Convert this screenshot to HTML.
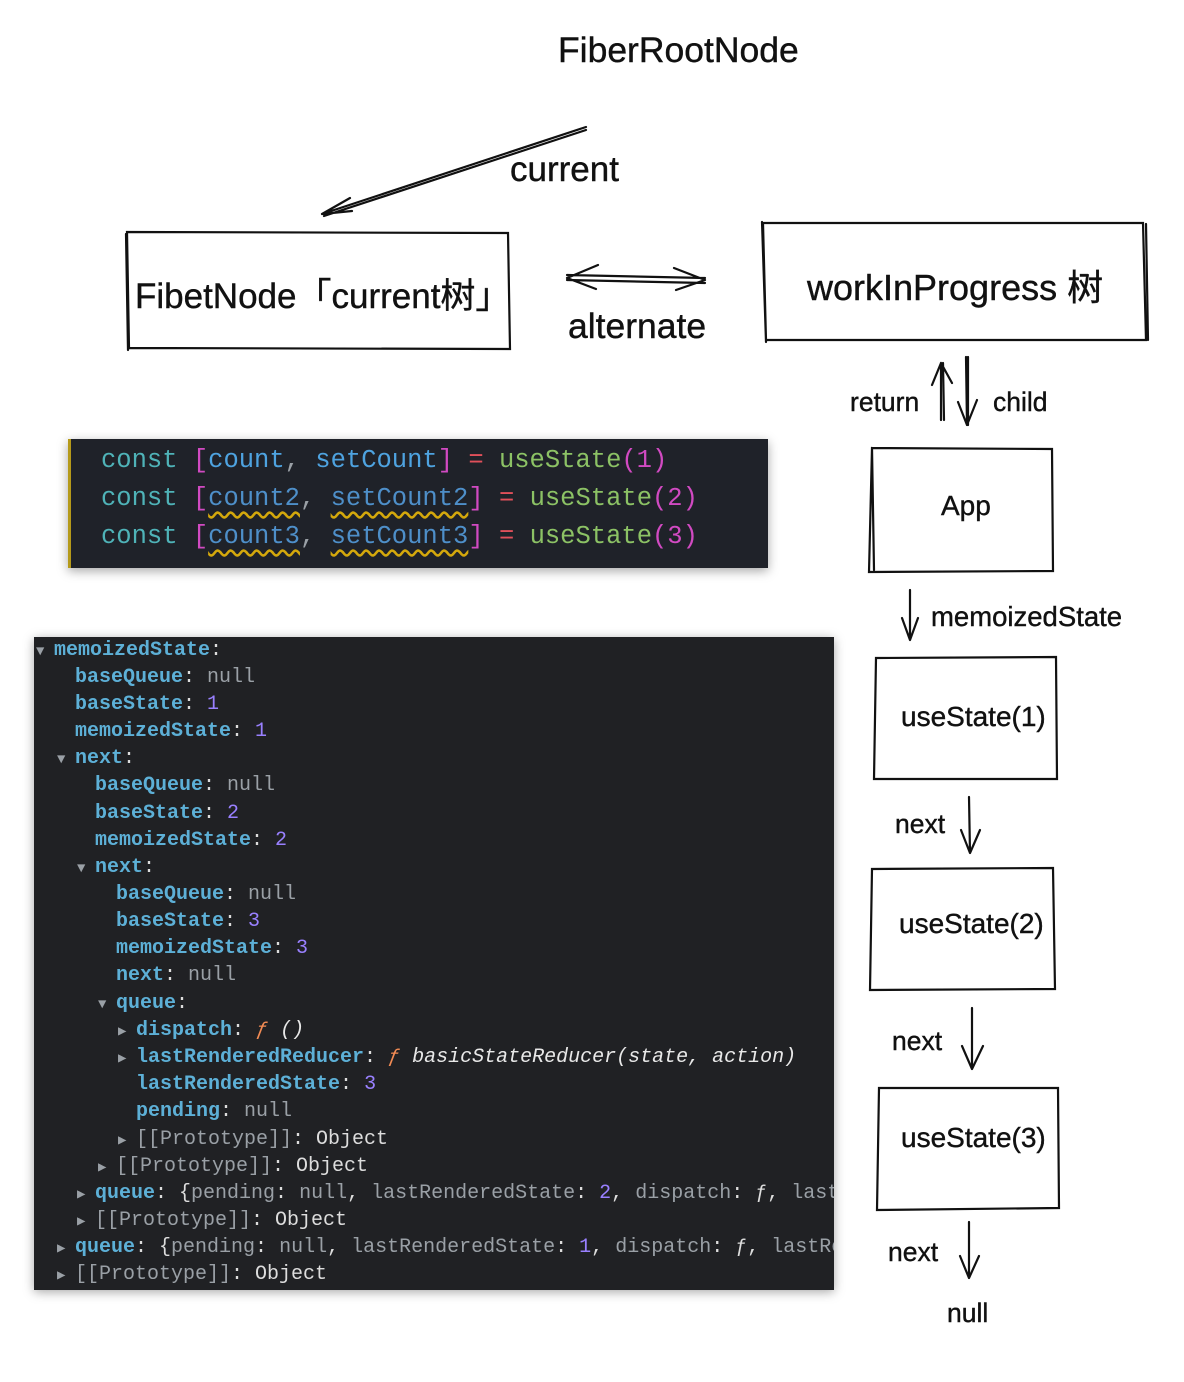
<!DOCTYPE html>
<html><head><meta charset="utf-8"><style>
body{margin:0;width:1184px;height:1382px;background:#fff;position:relative;overflow:hidden;font-family:"Liberation Sans","Noto Sans CJK SC",sans-serif}
.t{position:absolute;color:#111;white-space:nowrap;-webkit-text-stroke:0.4px #111}
#code{position:absolute;left:68px;top:439px;width:700px;height:129px;background:#1f2229;border-left:3px solid #b59a1a;box-sizing:border-box;box-shadow:0 3px 10px rgba(0,0,0,.35);overflow:hidden;font-family:"Liberation Mono",monospace;font-size:25.5px}
#code div{position:absolute;left:30px;white-space:pre}
.k{color:#4fb3b8}.b{color:#d14ac2}.v{color:#4ea3e0}.o{color:#e0505a}.f{color:#8cc265}.u{text-decoration:underline wavy #d4a80c;text-underline-offset:6px;color:#4e8fc9}
#dev{position:absolute;left:34px;top:637px;width:800px;height:653px;background:#202124;box-shadow:0 2px 10px rgba(0,0,0,.35);overflow:hidden;font-family:"Liberation Mono",monospace;font-size:20px}
#dev div{position:absolute;white-space:pre;color:#ddd;line-height:27px}
.n{color:#5db0d7;font-weight:bold}.g{color:#9aa0a6}.p{color:#9980ff}.fn{color:#f28b54;font-style:italic}.i{font-style:italic;color:#e8e8e8}
.tr{display:inline-block;width:18px;color:#9aa0a6;font-size:14px}
</style></head><body>
<svg width="1184" height="1382" style="position:absolute;left:0;top:0" fill="none" stroke="#111" stroke-width="2.2" stroke-linecap="round">
<path d="M586 127 L322 214 M586 130 L324 216 M322 214 L350 198 M322 214 L352 211"/>
<path d="M127 232 L508 233 L510 349 L129 348 Z M126 234 L128 350"/>
<path d="M763 223 L1143 223 L1146 340 L766 340 Z M762 222 L766 342 M1146 224 L1148 340"/>
<path d="M567 275 L705 278 M567 280 L705 283 M567 278 L598 265 M567 278 L596 289 M705 280 L674 268 M705 280 L676 290"/>
<path d="M941 420 L941 363 M944 420 L943 363 M941 363 L932 385 M941 363 L952 383"/>
<path d="M966 357 L967 425 M968 357 L968 425 M967 425 L958 402 M967 425 L977 400"/>
<path d="M872 448 L1052 449 L1053 571 L869 572 Z M872 448 L874 570"/>
<path d="M910 590 L910 640 M910 640 L902 618 M910 640 L918 618"/>
<path d="M876 658 L1056 657 L1057 779 L874 779 Z"/>
<path d="M969 797 L970 853 M970 853 L961 830 M970 853 L980 830"/>
<path d="M872 869 L1053 868 L1055 989 L870 990 Z"/>
<path d="M972 1008 L972 1069 M972 1069 L962 1046 M972 1069 L983 1046"/>
<path d="M879 1088 L1058 1088 L1059 1208 L877 1210 Z"/>
<path d="M969 1222 L969 1278 M969 1278 L960 1256 M969 1278 L979 1256"/>
</svg>
<div class="t" style="left:558px;top:30px;font-size:35.5px">FiberRootNode</div>
<div class="t" style="left:510px;top:150px;font-size:35px">current</div>
<div class="t" style="left:135px;top:268px;font-size:35px">FibetNode「current树」</div>
<div class="t" style="left:568px;top:306px;font-size:35.5px">alternate</div>
<div class="t" style="left:807px;top:259px;font-size:36px">workInProgress 树</div>
<div class="t" style="left:850px;top:387px;font-size:26.5px">return</div>
<div class="t" style="left:993px;top:387px;font-size:26.5px">child</div>
<div class="t" style="left:941px;top:490px;font-size:28px">App</div>
<div class="t" style="left:931px;top:601px;font-size:27.5px">memoizedState</div>
<div class="t" style="left:901px;top:701px;font-size:28px">useState(1)</div>
<div class="t" style="left:895px;top:809px;font-size:26.5px">next</div>
<div class="t" style="left:899px;top:908px;font-size:28px">useState(2)</div>
<div class="t" style="left:892px;top:1026px;font-size:26.5px">next</div>
<div class="t" style="left:901px;top:1122px;font-size:28px">useState(3)</div>
<div class="t" style="left:888px;top:1237px;font-size:26.5px">next</div>
<div class="t" style="left:947px;top:1298px;font-size:26.5px">null</div>

<div id="code">
<div style="top:7px"><span class="k">const</span> <span class="b">[</span><span class="v">count</span><span class="g">,</span> <span class="v">setCount</span><span class="b">]</span> <span class="o">=</span> <span class="f">useState</span><span class="b">(1)</span></div>
<div style="top:45px"><span class="k">const</span> <span class="b">[</span><span class="u">count2</span><span class="g">,</span> <span class="u">setCount2</span><span class="b">]</span> <span class="o">=</span> <span class="f">useState</span><span class="b">(2)</span></div>
<div style="top:83px"><span class="k">const</span> <span class="b">[</span><span class="u">count3</span><span class="g">,</span> <span class="u">setCount3</span><span class="b">]</span> <span class="o">=</span> <span class="f">useState</span><span class="b">(3)</span></div>
</div>

<div id="dev">
<div style="top:0px;left:2px"><span class="tr">▼</span><span class="n">memoizedState</span>:</div>
<div style="top:27px;left:41px"><span class="n">baseQueue</span>: <span class="g">null</span></div>
<div style="top:54px;left:41px"><span class="n">baseState</span>: <span class="p">1</span></div>
<div style="top:81px;left:41px"><span class="n">memoizedState</span>: <span class="p">1</span></div>
<div style="top:108px;left:23px"><span class="tr">▼</span><span class="n">next</span>:</div>
<div style="top:135px;left:61px"><span class="n">baseQueue</span>: <span class="g">null</span></div>
<div style="top:163px;left:61px"><span class="n">baseState</span>: <span class="p">2</span></div>
<div style="top:190px;left:61px"><span class="n">memoizedState</span>: <span class="p">2</span></div>
<div style="top:217px;left:43px"><span class="tr">▼</span><span class="n">next</span>:</div>
<div style="top:244px;left:82px"><span class="n">baseQueue</span>: <span class="g">null</span></div>
<div style="top:271px;left:82px"><span class="n">baseState</span>: <span class="p">3</span></div>
<div style="top:298px;left:82px"><span class="n">memoizedState</span>: <span class="p">3</span></div>
<div style="top:325px;left:82px"><span class="n">next</span>: <span class="g">null</span></div>
<div style="top:353px;left:64px"><span class="tr">▼</span><span class="n">queue</span>:</div>
<div style="top:380px;left:84px"><span class="tr">▶</span><span class="n">dispatch</span>: <span class="fn">ƒ</span> <span class="i">()</span></div>
<div style="top:407px;left:84px"><span class="tr">▶</span><span class="n">lastRenderedReducer</span>: <span class="fn">ƒ</span> <span class="i">basicStateReducer(state, action)</span></div>
<div style="top:434px;left:102px"><span class="n">lastRenderedState</span>: <span class="p">3</span></div>
<div style="top:461px;left:102px"><span class="n">pending</span>: <span class="g">null</span></div>
<div style="top:489px;left:84px"><span class="tr">▶</span><span class="g">[[Prototype]]</span>: Object</div>
<div style="top:516px;left:64px"><span class="tr">▶</span><span class="g">[[Prototype]]</span>: Object</div>
<div style="top:543px;left:43px"><span class="tr">▶</span><span class="n">queue</span>: {<span class="g">pending</span>: <span class="g">null</span>, <span class="g">lastRenderedState</span>: <span class="p">2</span>, <span class="g">dispatch</span>: ƒ, <span class="g">lastRenderedReducer</span></div>
<div style="top:570px;left:43px"><span class="tr">▶</span><span class="g">[[Prototype]]</span>: Object</div>
<div style="top:597px;left:23px"><span class="tr">▶</span><span class="n">queue</span>: {<span class="g">pending</span>: <span class="g">null</span>, <span class="g">lastRenderedState</span>: <span class="p">1</span>, <span class="g">dispatch</span>: ƒ, <span class="g">lastRenderedReducer</span></div>
<div style="top:624px;left:23px"><span class="tr">▶</span><span class="g">[[Prototype]]</span>: Object</div>
</div>
</body></html>
